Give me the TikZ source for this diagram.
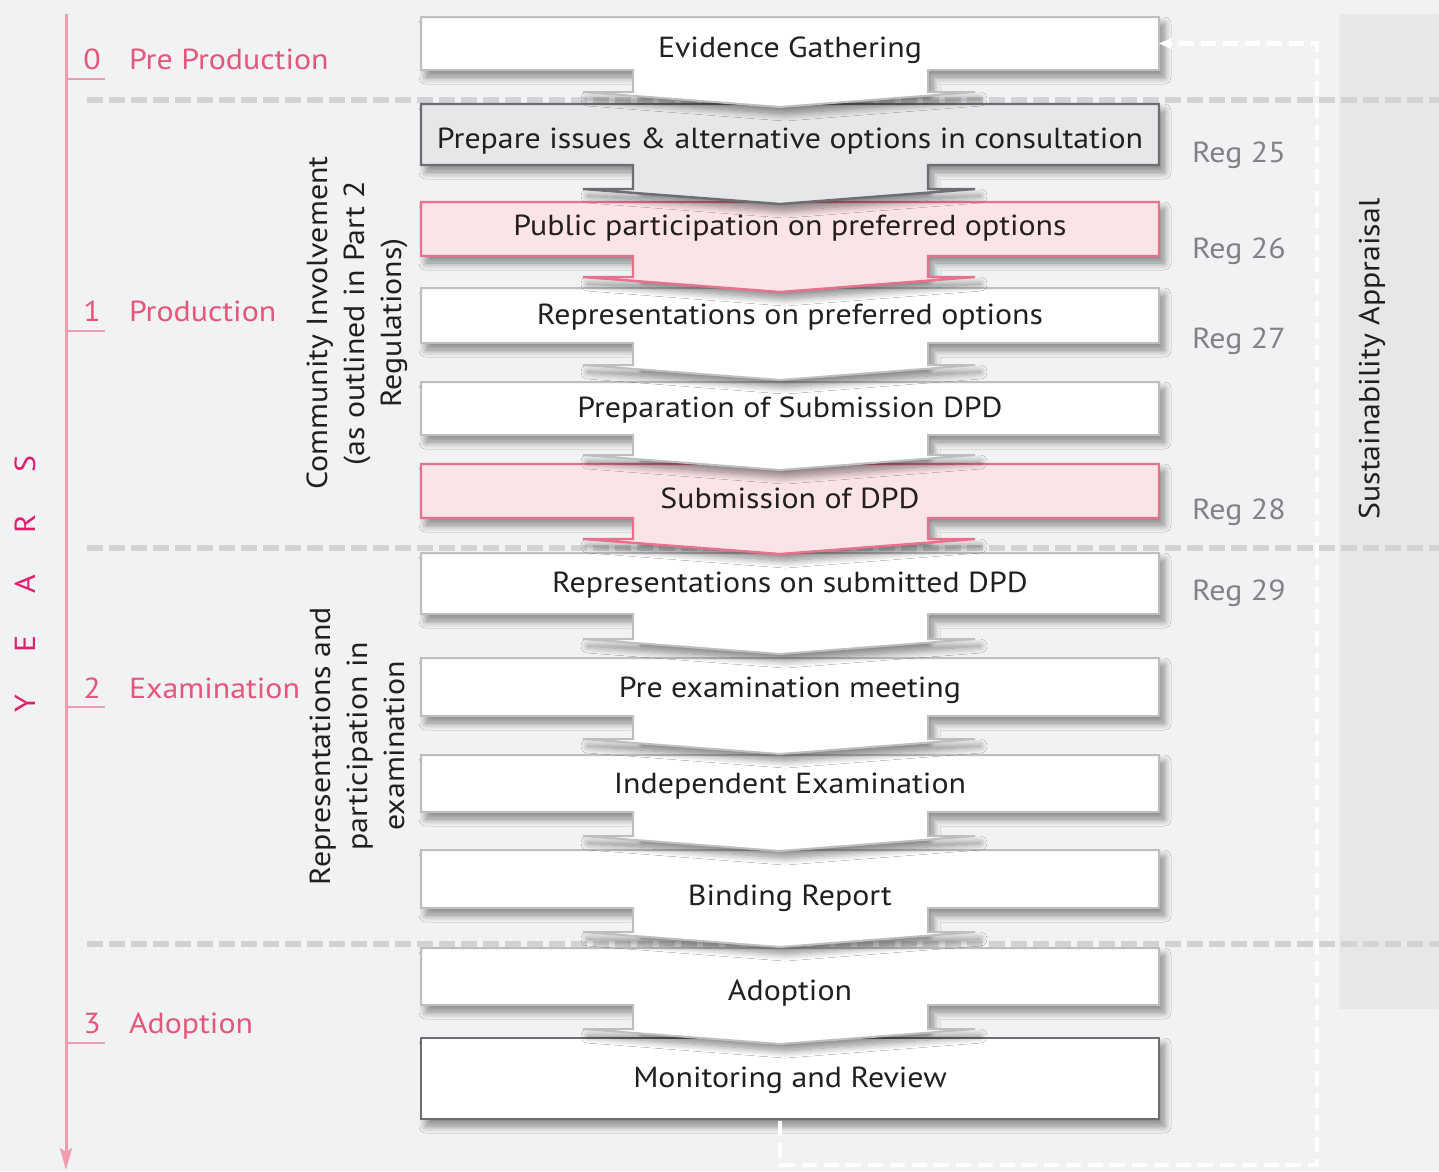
\documentclass[tikz,border=0pt]{standalone}
\usepackage{fontspec}
\setmainfont{PT Sans}[FakeStretch=1.1]
\usetikzlibrary{arrows.meta,shadows.blur}

\definecolor{pagebg}{HTML}{F1F2F4}
\definecolor{colbg}{HTML}{E6E7E9}
\definecolor{sepgray}{HTML}{D1D3D4}
\definecolor{boxgray}{HTML}{BCBEC0}
\definecolor{edgedark}{HTML}{6D6E71}
\definecolor{prepfill}{HTML}{E6E7E8}
\definecolor{pinkfill}{HTML}{FBE4E8}
\definecolor{pinkline}{HTML}{E8718C}
\definecolor{axispink}{HTML}{F09CAC}
\definecolor{phasepink}{HTML}{E6557A}
\definecolor{yearpink}{HTML}{E11D6C}
\definecolor{reggray}{HTML}{808285}
\definecolor{ink}{HTML}{231F20}

% One process step: box with a downward arrow, its outline node and its label.
% #1 name, #2 style, #3 top, #4 bottom, #5 stem bottom, #6 baseline, #7 text
\newcommand\flowstep[7]{%
  \path[#2] (421,#3) -- (1159,#3) -- (1159,#4) -- (928,#4) -- (928,#5)
    -- (975,#5) -- (780,{#5+15}) -- (583,#5) -- (633,#5) -- (633,#4)
    -- (421,#4) -- cycle;
  \node[boxarea, minimum height={#4-#3}] (#1) at (790,{(#3+#4)/2}) {};
  \node[steptext] (#1-t) at (790,#6) {#7};}

\begin{document}
\begin{tikzpicture}[x=1pt,y=-1pt,
  every node/.style={inner sep=0pt, outer sep=0pt},
  boxshadow/.style={blur shadow={shadow xshift=5pt, shadow yshift=-7pt,
      shadow blur radius=7pt, shadow blur steps=12, shadow opacity=45}},
  plainbox/.style={fill=white, draw=boxgray, line width=2pt, boxshadow},
  darkbox/.style={fill=prepfill, draw=edgedark, line width=2.4pt, boxshadow},
  pinkbox/.style={fill=pinkfill, draw=pinkline, line width=2.4pt, boxshadow},
  endbox/.style={fill=white, draw=edgedark, line width=2.4pt, boxshadow},
  boxarea/.style={draw=none, minimum width=738pt},
  steptext/.style={font=\fontsize{29}{34}\selectfont, text=ink, anchor=base},
  phase/.style={font=\fontsize{29}{34}\selectfont, text=phasepink},
  regtext/.style={font=\fontsize{29}{34}\selectfont, text=reggray, anchor=base west},
  sidetext/.style={font=\fontsize{29}{37}\selectfont, text=ink, rotate=90, align=center},
  sepline/.style={draw=sepgray, line width=5.5pt, dash pattern=on 16pt off 6pt},
  axisline/.style={draw=axispink, line width=3pt, -{Stealth[length=22pt, width=12pt, inset=4pt]}},
  tickline/.style={draw=axispink, line width=2.5pt},
  loopline/.style={draw=white, line width=4.5pt, dash pattern=on 15pt off 7pt,
      -{Stealth[length=14pt, width=12pt]}}
]
\useasboundingbox (0,0) rectangle (1439,1171);
\fill[pagebg] (0,0) rectangle (1439,1171);
\fill[colbg] (1339,14) rectangle (1439,1009);

% phase separators
\draw[sepline] (87,100) -- (1439,100);
\draw[sepline] (87,548) -- (1439,548);
\draw[sepline] (87,944) -- (1439,944);

% time axis
\coordinate (axtop) at (66,14);
\coordinate (axbot) at (66,1170);
\draw[axisline] (axtop) -- (axbot);
\foreach \ty in {79,331,707,1043} \draw[tickline] (66,\ty) -- (105,\ty);

% process steps, drawn bottom-up so each arrow lies over the next box
\path[endbox] (421,1038) rectangle (1159,1119);
\node[boxarea, minimum height=81pt] (mon) at (790,1078.5) {};
\node[steptext] (mon-t) at (790,1087) {Monitoring and Review};
\flowstep{adopt}{plainbox}{948}{1005}{1029}{1000}{Adoption}
\flowstep{bind}{plainbox}{850}{908}{932}{905}{Binding Report}
\flowstep{indep}{plainbox}{755}{812}{836}{793}{Independent Examination}
\flowstep{preex}{plainbox}{658}{716}{739}{697}{Pre examination meeting}
\flowstep{repsub}{plainbox}{553}{614}{639}{592}{Representations on submitted DPD}
\flowstep{sub}{pinkbox}{464}{518}{539}{508}{Submission of DPD}
\flowstep{prepsub}{plainbox}{382}{435}{455}{417}{Preparation of Submission DPD}
\flowstep{reppref}{plainbox}{288}{343}{365}{324}{Representations on preferred options}
\flowstep{pub}{pinkbox}{202}{256}{277}{235}{Public participation on preferred options}
\flowstep{prep}{darkbox}{104}{165}{189}{148}{Prepare issues \& alternative options in consultation}
\flowstep{ev}{plainbox}{17}{70}{92}{57}{Evidence Gathering}

% phases
\node[phase, anchor=base] (n0) at (92,69) {0};
\node[phase, anchor=base west] (p0) at (129,69) {Pre Production};
\node[phase, anchor=base] (n1) at (92,321) {1};
\node[phase, anchor=base west] (p1) at (129,321) {Production};
\node[phase, anchor=base] (n2) at (92,698) {2};
\node[phase, anchor=base west] (p2) at (129,698) {Examination};
\node[phase, anchor=base] (n3) at (92,1033) {3};
\node[phase, anchor=base west] (p3) at (129,1033) {Adoption};

\node[rotate=90, text=yearpink, font=\fontsize{29}{34}\selectfont] (years) at (25,584)
  {Y\hspace{42pt}E\hspace{42pt}A\hspace{42pt}R\hspace{42pt}S};

% involvement notes
\node[sidetext] (ci) at (357,323) {Community Involvement\\(as outlined in Part 2\\Regulations)};
\node[sidetext] (rp) at (357,746) {Representations and\\participation in\\examination};

% regulations
\node[regtext] (r25) at (1192,162) {Reg 25};
\node[regtext] (r26) at (1192,258) {Reg 26};
\node[regtext] (r27) at (1192,348) {Reg 27};
\node[regtext] (r28) at (1192,519) {Reg 28};
\node[regtext] (r29) at (1192,600) {Reg 29};

\node[sidetext] (sa) at (1372,359) {Sustainability Appraisal};

% review loop back to the start
\coordinate (loopstart) at (780,1121);
\draw[loopline] (loopstart) |- (1317,1165) |- (ev.east);
\end{tikzpicture}
\end{document}
